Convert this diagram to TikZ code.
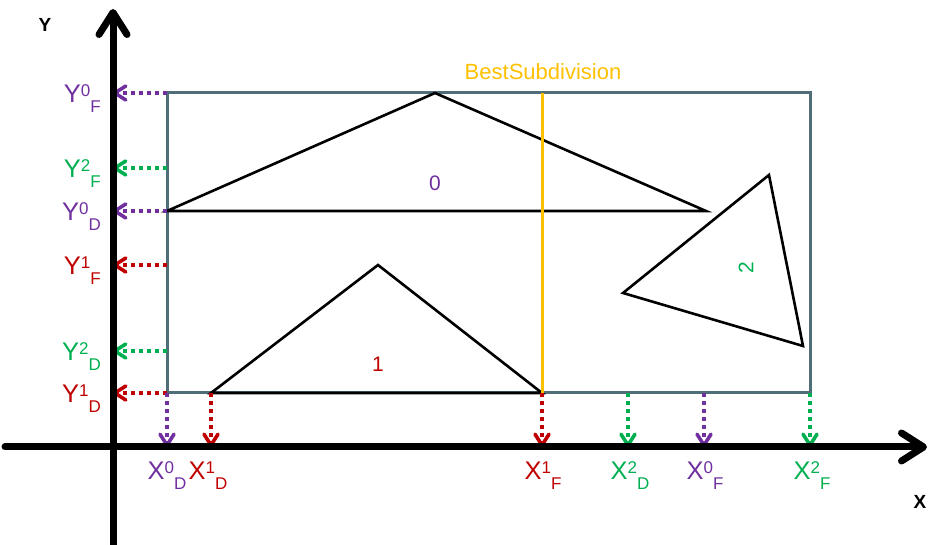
\documentclass[tikz,border=0pt]{standalone}
\usepackage{fontspec}
\setmainfont{Liberation Sans}
\usepackage{tikz}
\usetikzlibrary{arrows.meta}
\definecolor{limviolet}{RGB}{112,48,160}
\definecolor{limgreen}{RGB}{0,176,80}
\definecolor{limred}{RGB}{192,0,0}
\definecolor{limorange}{RGB}{255,192,0}
\definecolor{boxgray}{RGB}{80,110,120}
\newcommand{\limtext}[3]{#1\raisebox{0.24em}{\fontsize{17}{17}\selectfont #2}\raisebox{-0.36em}{\fontsize{17}{17}\selectfont #3}}

\begin{document}
\begin{tikzpicture}[x=1pt,y=1pt,axis/.style={line width=7pt,line cap=round,-{Straight Barb[round,length=22pt,width=28pt]}},axisname/.style={font=\fontsize{19}{19}\selectfont\bfseries},bbox/.style={draw=boxgray,line width=3pt},tri/.style={draw=black,line width=2.6pt,line join=miter},proj/.style={line width=3.6pt,dash pattern=on 4pt off 4pt,-{Straight Barb[round,length=11pt,width=14pt]}},ylim/.style={anchor=base east,inner sep=0pt,font=\fontsize{25.5}{25}\selectfont},xlim/.style={anchor=base,inner sep=0pt,font=\fontsize{25.5}{25}\selectfont},trilabel/.style={font=\fontsize{21}{21}\selectfont}]
\useasboundingbox (0,0) rectangle (932,545);
\coordinate (O) at (113,98);
\coordinate (ybot) at (113,0);
\coordinate (ytop) at (113,536);
\coordinate (xleft) at (5,98);
\coordinate (xright) at (927,98);
\coordinate (rsw) at (167,152);
\coordinate (rne) at (810,452);
\coordinate (t0a) at (167,334);
\coordinate (t0b) at (435,452);
\coordinate (t0c) at (706,334);
\coordinate (t1a) at (211,152);
\coordinate (t1b) at (378,280);
\coordinate (t1c) at (542,152);
\coordinate (t2a) at (769,370);
\coordinate (t2b) at (623,252);
\coordinate (t2c) at (803,199);
\coordinate (cuttop) at (542,452);
\coordinate (cutbot) at (542,152);
\draw[bbox] (rsw) rectangle (rne);
\draw[tri] (t0a)--(t0b)--(t0c)--cycle;
\draw[tri] (t1a)--(t1b)--(t1c)--cycle;
\draw[tri] (t2a)--(t2b)--(t2c)--cycle;
\draw[limorange,line width=3pt] (cuttop)--(cutbot);
\node[limorange,font=\fontsize{22}{22}\selectfont,anchor=base] (best) at (543,465) {BestSubdivision};
\node[trilabel,limviolet] (n0) at (435,362) {0};
\node[trilabel,limred] (n1) at (378,181) {1};
\node[trilabel,limgreen,rotate=90] (n2) at (746,277) {2};
\coordinate (a0F) at (167,452);
\coordinate (a2F) at (167,377);
\coordinate (a0D) at (167,334);
\coordinate (a1F) at (167,280);
\coordinate (a2D) at (167,194);
\coordinate (a1D) at (167,152);
\draw[proj,limviolet] (a0F)--(a0F -| O);
\draw[proj,limgreen] (a2F)--(a2F -| O);
\draw[proj,limviolet] (a0D)--(a0D -| O);
\draw[proj,limred] (a1F)--(a1F -| O);
\draw[proj,limgreen] (a2D)--(a2D -| O);
\draw[proj,limred] (a1D)--(a1D -| O);
\coordinate (b0D) at (167,152);
\coordinate (b1D) at (211,152);
\coordinate (b1F) at (542,152);
\coordinate (b2D) at (628,152);
\coordinate (b0F) at (704,152);
\coordinate (b2F) at (810,152);
\draw[proj,limviolet] (b0D)--(b0D |- O);
\draw[proj,limred] (b1D)--(b1D |- O);
\draw[proj,limred] (b1F)--(b1F |- O);
\draw[proj,limgreen] (b2D)--(b2D |- O);
\draw[proj,limviolet] (b0F)--(b0F |- O);
\draw[proj,limgreen] (b2F)--(b2F |- O);
\draw[axis] (ybot)--(ytop);
\draw[axis] (xleft)--(xright);
\node[axisname] (yname) at (45,520) {Y};
\node[axisname] (xname) at (920,43) {X};
\node[ylim,limviolet] (Y0F) at (101,442) {\limtext{Y}{0}{F}};
\node[ylim,limgreen] (Y2F) at (101,367) {\limtext{Y}{2}{F}};
\node[ylim,limviolet] (Y0D) at (101,324) {\limtext{Y}{0}{D}};
\node[ylim,limred] (Y1F) at (101,270) {\limtext{Y}{1}{F}};
\node[ylim,limgreen] (Y2D) at (101,184) {\limtext{Y}{2}{D}};
\node[ylim,limred] (Y1D) at (101,142) {\limtext{Y}{1}{D}};
\node[xlim,limviolet] (X0D) at (167,65) {\limtext{X}{0}{D}};
\node[xlim,limred] (X1D) at (208,65) {\limtext{X}{1}{D}};
\node[xlim,limred] (X1F) at (543,65) {\limtext{X}{1}{F}};
\node[xlim,limgreen] (X2D) at (630,65) {\limtext{X}{2}{D}};
\node[xlim,limviolet] (X0F) at (705,65) {\limtext{X}{0}{F}};
\node[xlim,limgreen] (X2F) at (812,65) {\limtext{X}{2}{F}};
\end{tikzpicture}
\end{document}
